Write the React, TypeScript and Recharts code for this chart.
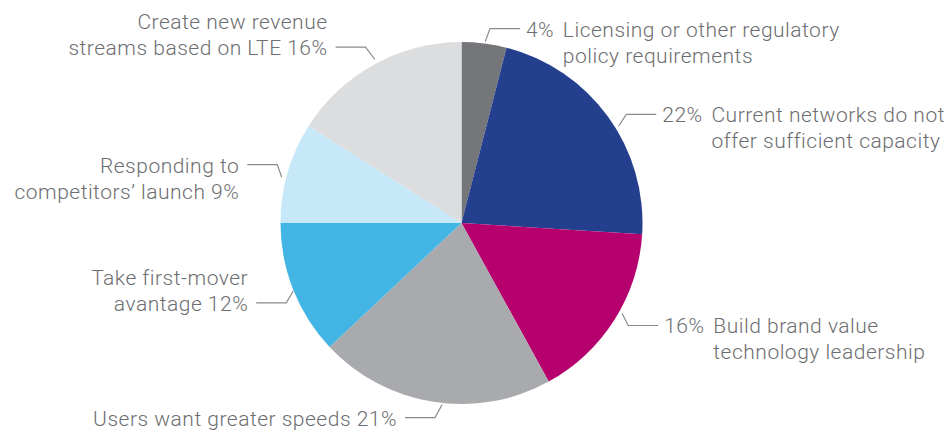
import { PieChart, Pie, Cell } from 'recharts';

// slices clockwise from 12 o'clock
const shares = [4, 22, 16, 21, 12, 9, 16];
const labelLines = [
  ['Licensing or other regulatory', 'policy requirements'],
  ['Current networks do not', 'offer sufficient capacity'],
  ['Build brand value', 'technology leadership'],
  ['Users want greater speeds'],
  ['Take first-mover', 'avantage'],
  ['Responding to', 'competitors’ launch'],
  ['Create new revenue', 'streams based on LTE'],
];

const SLICE_COLORS = ['#757679', '#243f8e', '#b5006d', '#a9aaad', '#43b5e5', '#c6e8f8', '#dcdddf'];
// which text row the leader line points at, and small nudges of the leader ends
const LEADER_ROW = [0, 0, 0, 0, 1, 0, 1];
const START_NUDGE = [
  [1, -1],
  [10, 10],
  [7, -7],
  [9, 2],
  [1, 1],
  [-5, 5],
  [1, -4],
];
const ELBOW_NUDGE = [
  [4, -1],
  [7, 6],
  [2, -2],
  [4, 2],
  [6, 8],
  [3, -4],
  [-2, -5],
];

const TEXT = '#6d6e71';
const LINE = '#8a8b8d';
const FONT = 'Roboto, "Liberation Sans", Arial, sans-serif';
const FS = 21;
const LH = 26;
const SPACING = 0.5;
const RAD = Math.PI / 180;

const data = shares.map((value, i) => ({ name: labelLines[i].join(' '), value }));

const pctWidth = (v: number) => (String(v).length * 0.562 + 0.875 + 0.25) * FS + (String(v).length + 2) * SPACING;

const renderLabel = (props: any) => {
  const { cx, cy, midAngle, outerRadius, index, value } = props;
  const cos = Math.cos(-midAngle * RAD);
  const sin = Math.sin(-midAngle * RAD);
  const sx = cx + (outerRadius + 1) * cos + START_NUDGE[index][0];
  const sy = cy + (outerRadius + 1) * sin + START_NUDGE[index][1];
  const ex = cx + (outerRadius + 14) * cos + ELBOW_NUDGE[index][0];
  const ey = cy + (outerRadius + 14) * sin + ELBOW_NUDGE[index][1];
  const right = cos >= 0;
  const hx = ex + (right ? 30 : -30);
  const tx = hx + (right ? 6 : -8);
  const lines = labelLines[index];
  const baseY = (k: number) => ey + (k - LEADER_ROW[index]) * LH + 8;
  const common = { fill: TEXT, fontSize: FS, fontFamily: FONT, fontWeight: 300, letterSpacing: SPACING };

  return (
    <g key={`lbl-${index}`}>
      <polyline points={`${sx},${sy} ${ex},${ey} ${hx},${ey}`} fill="none" stroke={LINE} strokeWidth={1.2} />
      {right ? (
        <>
          <text x={tx} y={baseY(0)} {...common} textAnchor="start">
            {`${value}%`}
          </text>
          {lines.map((l, k) => (
            <text key={k} x={tx + pctWidth(value)} y={baseY(k)} {...common} textAnchor="start">
              {l}
            </text>
          ))}
        </>
      ) : (
        lines.map((l, k) => (
          <text key={k} x={tx} y={baseY(k)} {...common} textAnchor="end">
            {k === lines.length - 1 ? `${l} ${value}%` : l}
          </text>
        ))
      )}
    </g>
  );
};

export default function App() {
  return (
    <div style={{ position: 'absolute', top: 0, left: 0, width: 949, height: 430, background: '#fff' }}>
      <PieChart
        width={949}
        height={430}
        margin={{ top: 0, right: 0, bottom: 0, left: 0 }}
        style={{ overflow: 'visible' }}
      >
        <Pie
          data={data}
          dataKey="value"
          nameKey="name"
          cx={461.5}
          cy={223}
          outerRadius={181}
          startAngle={90}
          endAngle={-270}
          stroke="none"
          label={renderLabel}
          labelLine={false}
          isAnimationActive={false}
        >
          {data.map((_, i) => (
            <Cell key={i} fill={SLICE_COLORS[i]} />
          ))}
        </Pie>
      </PieChart>
    </div>
  );
}
